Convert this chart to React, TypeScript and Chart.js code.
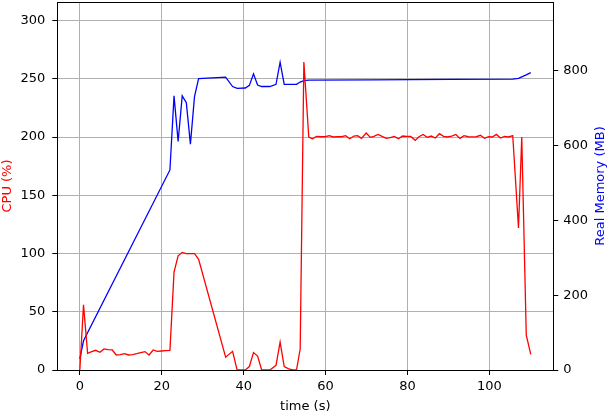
import React, { useEffect, useRef } from 'react';
import { Chart, registerables } from 'chart.js';

Chart.register(...registerables);

// CPU samples (time in s, CPU in %)
const cpuTime = [
  0, 0.9, 1.9, 2.9, 3.9, 4.9, 5.9, 6.9, 7.9, 8.9, 9.9, 10.9, 11.9, 12.9, 13.9, 14.9, 15.9, 16.9, 17.9, 18.9,
  19.9, 20.9, 22.0, 23.0, 24.0, 25.0, 26.0, 27.0, 28.0, 29.0, 35.6, 37.3, 38.4, 39.4, 40.4, 41.4, 42.4, 43.4,
  44.4, 45.4, 46.4, 47.9, 48.9, 49.9, 51.0, 52.0, 52.9, 53.8, 54.7, 55.9, 56.8, 57.8, 58.8, 59.9, 60.9, 61.9,
  62.9, 63.9, 64.9, 65.9, 66.9, 67.8, 68.8, 69.9, 70.9, 71.8, 72.8, 73.8, 74.8, 75.8, 76.8, 77.8, 78.8, 79.8,
  80.8, 81.9, 82.8, 83.8, 84.8, 85.8, 86.8, 87.8, 88.8, 89.8, 90.8, 91.8, 92.8, 93.8, 94.8, 95.8, 96.8, 97.8,
  98.8, 99.8, 100.7, 101.7, 102.7, 103.7, 104.7, 105.7, 107.1, 107.9, 109.0, 110.1,
];
const cpuValues = [
  0, 55.9, 14.3, 15.8, 16.9, 15.2, 18.1, 17.5, 17.2, 12.9, 13.2, 14.0, 12.9, 13.2, 14.0, 14.9, 15.8, 12.9, 17.2,
  16.0, 16.3, 16.6, 16.9, 84, 98, 101, 100, 100, 100, 95, 11, 16, 0, 0, 0, 3, 15, 12, 0, 0, 0, 4, 24, 3, 1, 0, 0,
  18, 264.5, 200.1, 198.6, 200.6, 200.3, 200.3, 201.2, 200.1, 200.3, 200.3, 201.2, 198.6, 200.9, 201.2, 198.9,
  203.5, 199.8, 200.6, 202.3, 200.6, 198.9, 199.5, 200.6, 198.6, 200.9, 200.6, 200.6, 197.2, 200.3, 202.3, 199.8,
  200.9, 199.2, 202.9, 200.6, 200.1, 200.9, 202.3, 198.9, 201.2, 200.3, 200.1, 200.3, 201.5, 198.9, 200.3, 200.1,
  202.3, 199.2, 200.6, 200.1, 201.2, 122, 200, 30, 13.5,
];

// Memory samples (time in s, real memory in MB)
const memTime = [
  0, 0.9, 22.0, 23.0, 24.0, 25.0, 26.0, 27.0, 28.0, 29.0, 35.6, 37.3, 38.4, 40.4, 41.4, 42.4, 43.4, 44.4, 46.4,
  47.9, 48.9, 49.9, 52.9, 53.8, 54.7, 55.9, 70.9, 90.8, 105.7, 107.1, 107.9, 109.0, 110.1,
];
const memValues = [
  30, 78, 535, 733, 611, 733, 715, 604, 731, 779, 783, 758, 753, 754, 761, 792, 762, 758, 758, 764, 823, 764,
  764, 770, 774, 775, 776, 777, 778, 780, 784, 789, 795,
];

const xTicks = [0, 20, 40, 60, 80, 100];
const cpuTicks = [0, 50, 100, 150, 200, 250, 300];
const memTicks = [0, 200, 400, 600, 800];

const font = { family: '"DejaVu Sans", sans-serif', size: 13 };

// black box round the plot, and the right-hand title read bottom to top
const frame = {
  id: 'frame',
  afterDraw(chart: any) {
    const { ctx, chartArea: a } = chart;
    ctx.save();
    ctx.strokeStyle = '#000';
    ctx.lineWidth = 1;
    ctx.strokeRect(Math.round(a.left) + 0.5, Math.round(a.top) + 0.5, Math.round(a.right - a.left), Math.round(a.bottom - a.top));
    ctx.translate(601, (a.top + a.bottom) / 2);
    ctx.rotate(-Math.PI / 2);
    ctx.fillStyle = '#0000ff';
    ctx.font = '13px "DejaVu Sans", sans-serif';
    ctx.textAlign = 'center';
    ctx.textBaseline = 'middle';
    ctx.fillText('Real Memory (MB)', 0, 0);
    ctx.restore();
  },
};

const noPad = (s: any) => {
  s.paddingTop = 0;
  s.paddingBottom = 0;
  s.paddingLeft = 0;
  s.paddingRight = 0;
};

const App = () => {
  const canvasRef = useRef<HTMLCanvasElement>(null);

  useEffect(() => {
    document.body.style.margin = '0';
    const ctx = canvasRef.current!.getContext('2d')!;

    const chart = new Chart(ctx, {
      type: 'line',
      data: {
        datasets: [
          {
            label: 'CPU',
            data: cpuTime.map((t, i) => ({ x: t, y: cpuValues[i] })),
            borderColor: '#ff0000',
            borderWidth: 1.3,
            pointRadius: 0,
            tension: 0,
            yAxisID: 'y',
          },
          {
            label: 'Memory',
            data: memTime.map((t, i) => ({ x: t, y: memValues[i] })),
            borderColor: '#0000ff',
            borderWidth: 1.3,
            pointRadius: 0,
            tension: 0,
            yAxisID: 'y1',
          },
        ],
      },
      options: {
        animation: false,
        responsive: true,
        maintainAspectRatio: false,
        layout: { padding: { top: 2, left: 0, right: 0, bottom: 0 } },
        plugins: { legend: { display: false }, tooltip: { enabled: false } },
        scales: {
          x: {
            type: 'linear',
            min: -5.5,
            max: 115.6,
            afterBuildTicks: (s: any) => {
              s.ticks = xTicks.map((v) => ({ value: v }));
            },
            afterFit: (s: any) => {
              s.height = 44;
              noPad(s);
            },
            grid: { color: '#b0b0b0', tickColor: '#000', tickLength: 5 },
            border: { display: false },
            ticks: { color: '#000', font, padding: 4, maxRotation: 0 },
            title: {
              display: true,
              text: 'time (s)',
              color: '#000',
              font: { ...font, lineHeight: 1.2 },
              padding: { top: 0, bottom: 0 },
            },
          },
          y: {
            position: 'left',
            min: 0,
            max: 316,
            afterBuildTicks: (s: any) => {
              s.ticks = cpuTicks.map((v) => ({ value: v }));
            },
            afterFit: (s: any) => {
              s.width = 57.3;
              noPad(s);
            },
            grid: { color: '#b0b0b0', tickColor: '#000', tickLength: 5 },
            border: { display: false },
            ticks: { color: '#000', font, padding: 7 },
            title: {
              display: true,
              text: 'CPU (%)',
              color: '#ff0000',
              font: { ...font, lineHeight: 1.15 },
              padding: { top: 0, bottom: 0 },
            },
          },
          y1: {
            position: 'right',
            min: 0,
            max: 984,
            afterBuildTicks: (s: any) => {
              s.ticks = memTicks.map((v) => ({ value: v }));
            },
            afterFit: (s: any) => {
              s.width = 54.7;
              noPad(s);
            },
            grid: { drawOnChartArea: false, tickColor: '#000', tickLength: 5 },
            border: { display: false },
            ticks: { color: '#000', font, padding: 5 },
          },
        },
      },
      plugins: [frame],
    });

    return () => chart.destroy();
  }, []);

  return (
    <div style={{ width: 608, height: 414, position: 'relative' }}>
      <canvas ref={canvasRef} />
    </div>
  );
};

export default App;
